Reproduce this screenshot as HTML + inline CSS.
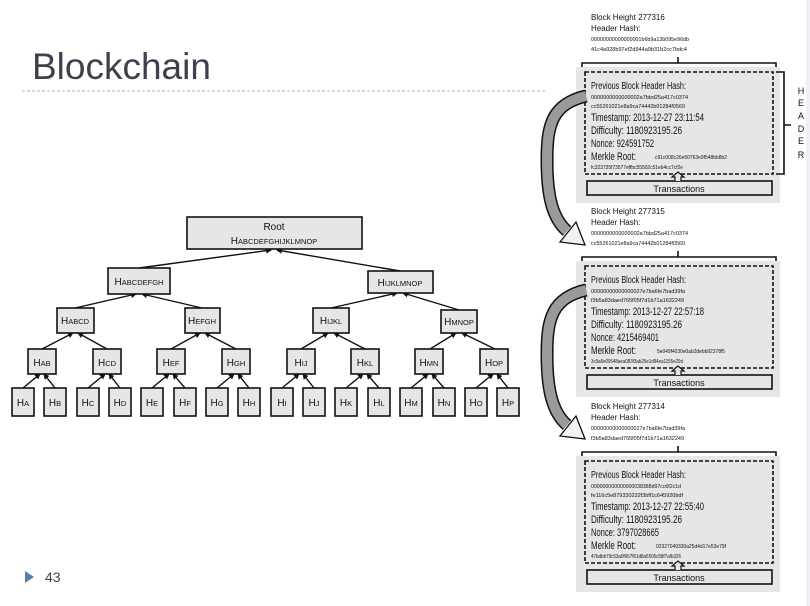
<!DOCTYPE html>
<html><head><meta charset="utf-8"><style>
html,body{margin:0;padding:0;background:#fff;}
svg{display:block;}
text{font-family:"Liberation Sans",sans-serif;}
.n{fill:#e6e6e6;stroke:#111;stroke-width:1.6;}
.t{font-size:10px;fill:#111;}
.s{font-size:7.5px;}
.l{stroke:#111;stroke-width:1.4;marker-end:url(#ah);}
</style></head><body>
<svg width="810" height="606" viewBox="0 0 810 606" xmlns="http://www.w3.org/2000/svg">
<defs>
<marker id="ah" markerWidth="6" markerHeight="6" refX="5" refY="3" orient="auto" markerUnits="userSpaceOnUse"><path d="M0,0 L6,3 L0,6 z" fill="#111"/></marker>
<g id="blk">
  <path d="M582,70 V63 H776 V70 M678,63 V57" fill="none" stroke="#111" stroke-width="1.6"/>
  <rect x="576" y="67" width="204" height="136" fill="#e6e6e6"/>
  <rect x="585" y="72" width="188" height="102" fill="none" stroke="#111" stroke-width="1.6" stroke-dasharray="4,2"/>
  <rect x="587" y="181" width="185" height="14" fill="#e6e6e6" stroke="#111" stroke-width="1.6"/>
  <text x="679" y="192" font-size="9" text-anchor="middle" fill="#111">Transactions</text>
  <path d="M675,181 V177 H672 L678,172 L684,177 H681 V181" fill="#e6e6e6" stroke="#111" stroke-width="1.2"/>
</g>
<g id="arr">
  <path d="M586,96 C552,104 547,125 547,160 C547,195 552,218 567,231" fill="none" stroke="#111" stroke-width="13"/>
  <path d="M586,96 C552,104 547,125 547,160 C547,195 552,218 567,231" fill="none" stroke="#9a9a9a" stroke-width="10"/>
  <polygon points="560,242 576,222 585,245" fill="#f2f2f2" stroke="#111" stroke-width="1.3"/>
</g>
</defs>

<text x="32" y="79" font-size="37" fill="#3f3f4f">Blockchain</text>
<line x1="22" y1="91" x2="545" y2="91" stroke="#b8c6d4" stroke-width="1.2" stroke-dasharray="3,2"/>
<polygon points="25,571 25,583 34,577" fill="#5a7fa8"/>
<text x="45" y="582" font-size="14" fill="#444">43</text>

<g>
<line class="l" x1="139" y1="268" x2="271" y2="250"/><line class="l" x1="400" y1="271" x2="277" y2="250"/>
<line class="l" x1="75" y1="308" x2="136" y2="294"/><line class="l" x1="202" y1="308" x2="142" y2="294"/>
<line class="l" x1="331" y1="308" x2="397" y2="293"/><line class="l" x1="459" y1="310" x2="403" y2="293"/>
<line class="l" x1="42" y1="349" x2="73" y2="333"/><line class="l" x1="107" y1="349" x2="78" y2="333"/>
<line class="l" x1="171" y1="349" x2="200" y2="333"/><line class="l" x1="236" y1="349" x2="205" y2="333"/>
<line class="l" x1="301" y1="349" x2="328" y2="333"/><line class="l" x1="365" y1="349" x2="334" y2="333"/>
<line class="l" x1="430" y1="349" x2="456" y2="333"/><line class="l" x1="495" y1="349" x2="462" y2="333"/>
<line class="l" x1="23" y1="388" x2="40" y2="374"/><line class="l" x1="55" y1="388" x2="44" y2="374"/>
<line class="l" x1="88" y1="388" x2="105" y2="374"/><line class="l" x1="120" y1="388" x2="109" y2="374"/>
<line class="l" x1="152" y1="388" x2="169" y2="374"/><line class="l" x1="185" y1="388" x2="173" y2="374"/>
<line class="l" x1="217" y1="388" x2="234" y2="374"/><line class="l" x1="249" y1="388" x2="238" y2="374"/>
<line class="l" x1="282" y1="388" x2="299" y2="374"/><line class="l" x1="314" y1="388" x2="303" y2="374"/>
<line class="l" x1="346" y1="388" x2="363" y2="374"/><line class="l" x1="379" y1="388" x2="367" y2="374"/>
<line class="l" x1="411" y1="388" x2="428" y2="374"/><line class="l" x1="444" y1="388" x2="432" y2="374"/>
<line class="l" x1="476" y1="388" x2="493" y2="374"/><line class="l" x1="508" y1="388" x2="497" y2="374"/>
</g>

<rect class="n" x="187" y="217" width="175" height="32"/>
<text class="t" x="274" y="230" text-anchor="middle">Root</text>
<text class="t" x="274" y="244" text-anchor="middle">H<tspan class="s">ABCDEFGHIJKLMNOP</tspan></text>

<rect class="n" x="108" y="268" width="62" height="26"/>
<text class="t" x="139" y="285" text-anchor="middle">H<tspan class="s">ABCDEFGH</tspan></text>
<rect class="n" x="368" y="271" width="65" height="22"/>
<text class="t" x="400" y="286" text-anchor="middle">H<tspan class="s">IJKLMNOP</tspan></text>

<rect class="n" x="57" y="308" width="37" height="25"/><text class="t" x="75" y="324" text-anchor="middle">H<tspan class="s">ABCD</tspan></text>
<rect class="n" x="185" y="308" width="35" height="25"/><text class="t" x="202" y="324" text-anchor="middle">H<tspan class="s">EFGH</tspan></text>
<rect class="n" x="313" y="308" width="36" height="25"/><text class="t" x="331" y="324" text-anchor="middle">H<tspan class="s">IJKL</tspan></text>
<rect class="n" x="441" y="310" width="36" height="23"/><text class="t" x="459" y="325" text-anchor="middle">H<tspan class="s">MNOP</tspan></text>

<g>
<rect class="n" x="28" y="349" width="28" height="25"/><text class="t" x="42" y="366" text-anchor="middle">H<tspan class="s">AB</tspan></text>
<rect class="n" x="93" y="349" width="28" height="25"/><text class="t" x="107" y="366" text-anchor="middle">H<tspan class="s">CD</tspan></text>
<rect class="n" x="157" y="349" width="28" height="25"/><text class="t" x="171" y="366" text-anchor="middle">H<tspan class="s">EF</tspan></text>
<rect class="n" x="222" y="349" width="28" height="25"/><text class="t" x="236" y="366" text-anchor="middle">H<tspan class="s">GH</tspan></text>
<rect class="n" x="287" y="349" width="28" height="25"/><text class="t" x="301" y="366" text-anchor="middle">H<tspan class="s">IJ</tspan></text>
<rect class="n" x="351" y="349" width="28" height="25"/><text class="t" x="365" y="366" text-anchor="middle">H<tspan class="s">KL</tspan></text>
<rect class="n" x="415" y="349" width="28" height="25"/><text class="t" x="429" y="366" text-anchor="middle">H<tspan class="s">MN</tspan></text>
<rect class="n" x="480" y="349" width="28" height="25"/><text class="t" x="494" y="366" text-anchor="middle">H<tspan class="s">OP</tspan></text>
</g>

<g>
<rect class="n" x="12" y="388" width="22" height="28"/><text class="t" x="23" y="406" text-anchor="middle">H<tspan class="s">A</tspan></text>
<rect class="n" x="44" y="388" width="22" height="28"/><text class="t" x="55" y="406" text-anchor="middle">H<tspan class="s">B</tspan></text>
<rect class="n" x="77" y="388" width="22" height="28"/><text class="t" x="88" y="406" text-anchor="middle">H<tspan class="s">C</tspan></text>
<rect class="n" x="109" y="388" width="22" height="28"/><text class="t" x="120" y="406" text-anchor="middle">H<tspan class="s">D</tspan></text>
<rect class="n" x="141" y="388" width="22" height="28"/><text class="t" x="152" y="406" text-anchor="middle">H<tspan class="s">E</tspan></text>
<rect class="n" x="174" y="388" width="22" height="28"/><text class="t" x="185" y="406" text-anchor="middle">H<tspan class="s">F</tspan></text>
<rect class="n" x="206" y="388" width="22" height="28"/><text class="t" x="217" y="406" text-anchor="middle">H<tspan class="s">G</tspan></text>
<rect class="n" x="238" y="388" width="22" height="28"/><text class="t" x="249" y="406" text-anchor="middle">H<tspan class="s">H</tspan></text>
<rect class="n" x="271" y="388" width="22" height="28"/><text class="t" x="282" y="406" text-anchor="middle">H<tspan class="s">I</tspan></text>
<rect class="n" x="303" y="388" width="22" height="28"/><text class="t" x="314" y="406" text-anchor="middle">H<tspan class="s">J</tspan></text>
<rect class="n" x="335" y="388" width="22" height="28"/><text class="t" x="346" y="406" text-anchor="middle">H<tspan class="s">K</tspan></text>
<rect class="n" x="368" y="388" width="22" height="28"/><text class="t" x="379" y="406" text-anchor="middle">H<tspan class="s">L</tspan></text>
<rect class="n" x="400" y="388" width="22" height="28"/><text class="t" x="411" y="406" text-anchor="middle">H<tspan class="s">M</tspan></text>
<rect class="n" x="433" y="388" width="22" height="28"/><text class="t" x="444" y="406" text-anchor="middle">H<tspan class="s">N</tspan></text>
<rect class="n" x="465" y="388" width="22" height="28"/><text class="t" x="476" y="406" text-anchor="middle">H<tspan class="s">O</tspan></text>
<rect class="n" x="497" y="388" width="22" height="28"/><text class="t" x="508" y="406" text-anchor="middle">H<tspan class="s">P</tspan></text>
</g>

<rect x="806" y="0" width="4" height="606" fill="#eef0f3"/>

<use href="#blk"/>
<use href="#blk" y="194"/>
<use href="#blk" y="389"/>

<path d="M776,72 H784 V174 H776 M784,125 H791" fill="none" stroke="#111" stroke-width="1.6"/>
<g font-size="9" fill="#111" text-anchor="middle">
<text x="801" y="94">H</text><text x="801" y="106">E</text><text x="801" y="119">A</text>
<text x="801" y="132">D</text><text x="801" y="144">E</text><text x="801" y="158">R</text>
</g>

<g fill="#111">
<text x="591" y="20" font-size="8">Block Height 277316</text>
<text x="591" y="31" font-size="8">Header Hash:</text>
<text x="591" y="41" font-size="5.5" textLength="98" lengthAdjust="spacingAndGlyphs">00000000000000001b6b9a13b095e96db</text>
<text x="591" y="51" font-size="5.5" textLength="96" lengthAdjust="spacingAndGlyphs">41c4a928b97ef2d944a9b31b2cc7bdc4</text>
<text x="591" y="89" font-size="10" textLength="95" lengthAdjust="spacingAndGlyphs">Previous Block Header Hash:</text>
<text x="591" y="99" font-size="5.5" textLength="97" lengthAdjust="spacingAndGlyphs">0000000000000002a7bbd25a417c0374</text>
<text x="591" y="108" font-size="5.5" textLength="94" lengthAdjust="spacingAndGlyphs">cc55261021e8a9ca74442b01284f0569</text>
<text x="591" y="121" font-size="11" textLength="113" lengthAdjust="spacingAndGlyphs">Timestamp: 2013-12-27 23:11:54</text>
<text x="591" y="134" font-size="11" textLength="91" lengthAdjust="spacingAndGlyphs">Difficulty: 1180923195.26</text>
<text x="591" y="147" font-size="11" textLength="63" lengthAdjust="spacingAndGlyphs">Nonce: 924591752</text>
<text x="591" y="160" font-size="11" textLength="45" lengthAdjust="spacingAndGlyphs">Merkle Root:</text>
<text x="655" y="159" font-size="5" textLength="72" lengthAdjust="spacingAndGlyphs">c91c008c26e50763e9f548bb8b2</text>
<text x="591" y="169" font-size="5" textLength="92" lengthAdjust="spacingAndGlyphs">fc323735f73577effbc55502c51eb4cc7cf2e</text>

<text x="591" y="214" font-size="8">Block Height 277315</text>
<text x="591" y="225" font-size="8">Header Hash:</text>
<text x="591" y="235" font-size="5.5" textLength="97" lengthAdjust="spacingAndGlyphs">0000000000000002a7bbd25a417c0374</text>
<text x="591" y="245" font-size="5.5" textLength="94" lengthAdjust="spacingAndGlyphs">cc55261021e8a9ca74442b01284f0569</text>
<text x="591" y="283" font-size="10" textLength="95" lengthAdjust="spacingAndGlyphs">Previous Block Header Hash:</text>
<text x="591" y="293" font-size="5.5" textLength="94" lengthAdjust="spacingAndGlyphs">00000000000000027e7ba6fe7bad39fa</text>
<text x="591" y="302" font-size="5.5" textLength="93" lengthAdjust="spacingAndGlyphs">f3b5a83daed765f05f7d1b71a1632249</text>
<text x="591" y="315" font-size="11" textLength="113" lengthAdjust="spacingAndGlyphs">Timestamp: 2013-12-27 22:57:18</text>
<text x="591" y="328" font-size="11" textLength="91" lengthAdjust="spacingAndGlyphs">Difficulty: 1180923195.26</text>
<text x="591" y="341" font-size="11" textLength="68" lengthAdjust="spacingAndGlyphs">Nonce: 4215469401</text>
<text x="591" y="354" font-size="11" textLength="45" lengthAdjust="spacingAndGlyphs">Merkle Root:</text>
<text x="657" y="353" font-size="5" textLength="68" lengthAdjust="spacingAndGlyphs">5e049f4030e0ab2debb92378f5</text>
<text x="591" y="363" font-size="5" textLength="92" lengthAdjust="spacingAndGlyphs">3c0a6e09548aea083f3ab25e1d94ea1155e29d</text>

<text x="591" y="409" font-size="8">Block Height 277314</text>
<text x="591" y="420" font-size="8">Header Hash:</text>
<text x="591" y="430" font-size="5.5" textLength="94" lengthAdjust="spacingAndGlyphs">00000000000000027e7ba6fe7bad39fa</text>
<text x="591" y="440" font-size="5.5" textLength="93" lengthAdjust="spacingAndGlyphs">f3b5a83daed765f05f7d1b71a1632249</text>
<text x="591" y="478" font-size="10" textLength="95" lengthAdjust="spacingAndGlyphs">Previous Block Header Hash:</text>
<text x="591" y="488" font-size="5.5" textLength="90" lengthAdjust="spacingAndGlyphs">000000000000000038388d97cc6f2c1d</text>
<text x="591" y="497" font-size="5.5" textLength="92" lengthAdjust="spacingAndGlyphs">fe116c5e879330232f3bff1c645920bdf</text>
<text x="591" y="510" font-size="11" textLength="113" lengthAdjust="spacingAndGlyphs">Timestamp: 2013-12-27 22:55:40</text>
<text x="591" y="523" font-size="11" textLength="91" lengthAdjust="spacingAndGlyphs">Difficulty: 1180923195.26</text>
<text x="591" y="536" font-size="11" textLength="68" lengthAdjust="spacingAndGlyphs">Nonce: 3797028665</text>
<text x="591" y="549" font-size="11" textLength="45" lengthAdjust="spacingAndGlyphs">Merkle Root:</text>
<text x="656" y="548" font-size="5" textLength="70" lengthAdjust="spacingAndGlyphs">02327049330a25d4d17e53e79f</text>
<text x="591" y="558" font-size="5" textLength="90" lengthAdjust="spacingAndGlyphs">47bdbb79c53a0f967f61d8a5505c58f7afb326</text>
</g>

<use href="#arr"/>
<use href="#arr" y="194"/>
</svg>
</body></html>
